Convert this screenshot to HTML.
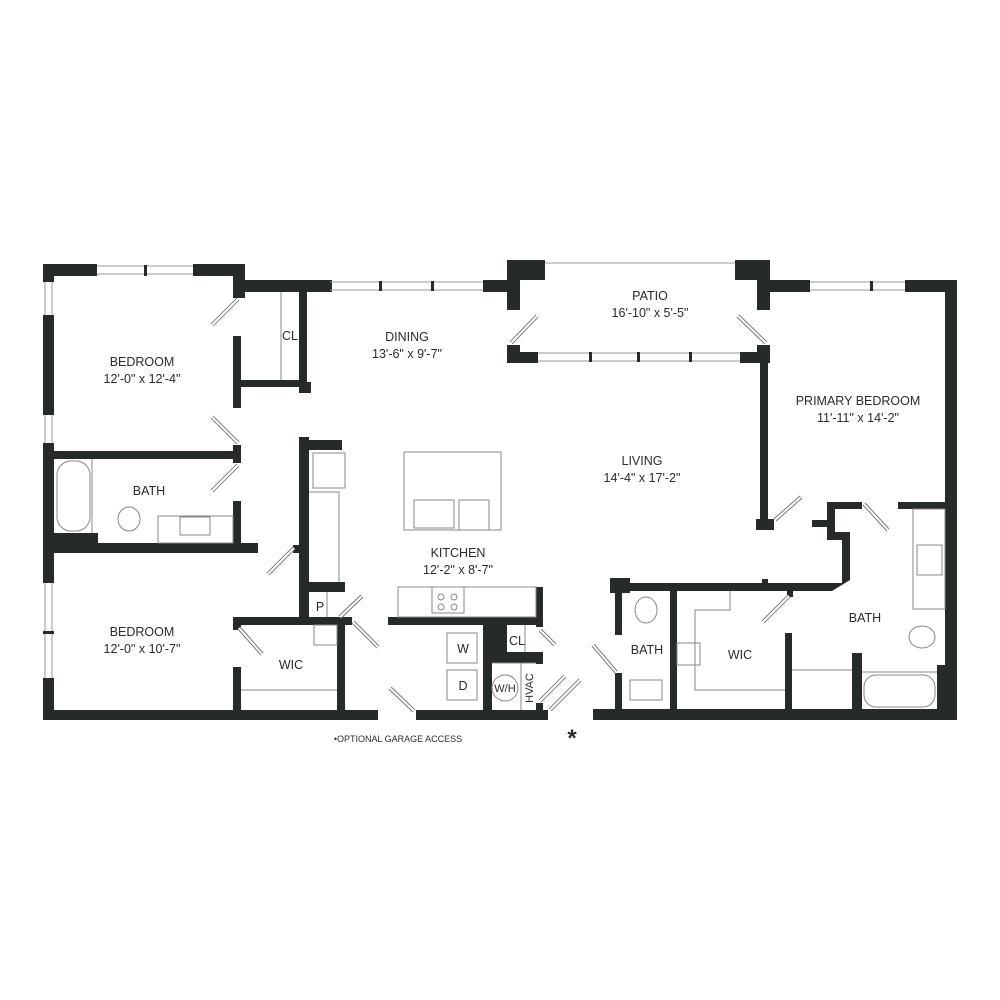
<!DOCTYPE html>
<html><head><meta charset="utf-8"><style>
html,body{margin:0;padding:0;background:#fff}
svg{display:block}
text{font-family:"Liberation Sans",sans-serif;font-size:12.5px;fill:#2a2c2c;text-anchor:middle}
</style></head><body>
<svg width="1000" height="1000" viewBox="0 0 1000 1000">
<g fill="#262a2a">
<!-- left outer -->
<rect x="43" y="264" width="54" height="12"/>
<rect x="193" y="264" width="52" height="12"/>
<rect x="43" y="264" width="11" height="18"/>
<rect x="43" y="315" width="11" height="100"/>
<rect x="43" y="443" width="11" height="140"/>
<rect x="43" y="678" width="11" height="42"/>
<rect x="233" y="264" width="12" height="34"/>
<rect x="245" y="280" width="87" height="12"/>
<!-- CL -->
<rect x="299" y="292" width="8" height="100"/>
<rect x="299" y="382" width="12" height="11"/>
<rect x="240" y="380" width="67" height="7"/>
<rect x="233" y="336" width="8" height="72"/>
<!-- bedroom/bath -->
<rect x="43" y="451" width="198" height="8"/>
<rect x="233" y="445" width="8" height="18"/>
<rect x="233" y="501" width="8" height="42"/>
<rect x="43" y="543" width="215" height="10"/>
<rect x="43" y="533" width="55" height="20"/>
<!-- kitchen left wall -->
<rect x="299" y="437" width="10" height="181"/>
<rect x="299" y="440" width="43" height="10"/>
<rect x="293" y="545" width="8" height="8"/>
<rect x="309" y="582" width="36" height="10"/>
<!-- WIC -->
<rect x="233" y="617" width="119" height="8"/>
<rect x="233" y="617" width="8" height="13"/>
<rect x="233" y="667" width="8" height="45"/>
<rect x="337" y="617" width="8" height="95"/>
<rect x="43" y="710" width="335" height="10"/>
<!-- kitchen counter wall / laundry -->
<rect x="388" y="617" width="155" height="8"/>
<rect x="536" y="587" width="7" height="40"/>
<rect x="483" y="625" width="24" height="37"/>
<rect x="483" y="625" width="9" height="88"/>
<rect x="492" y="652" width="51" height="11"/>
<rect x="536" y="652" width="7" height="12"/>
<rect x="416" y="710" width="132" height="10"/>
<rect x="536" y="703" width="7" height="9"/>
<!-- dining/patio -->
<rect x="483" y="280" width="32" height="12"/>
<rect x="507" y="260" width="38" height="20"/>
<rect x="507" y="260" width="13" height="50"/>
<rect x="735" y="260" width="35" height="20"/>
<rect x="757" y="260" width="13" height="50"/>
<rect x="507" y="345" width="13" height="18"/>
<rect x="507" y="352" width="31" height="11"/>
<rect x="740" y="352" width="30" height="11"/>
<rect x="757" y="345" width="13" height="18"/>
<rect x="760" y="363" width="8" height="160"/>
<rect x="756" y="519" width="18" height="11"/>
<!-- primary -->
<rect x="770" y="280" width="40" height="12"/>
<rect x="905" y="280" width="52" height="12"/>
<rect x="945" y="280" width="12" height="440"/>
<rect x="937" y="665" width="20" height="55"/>
<rect x="898" y="502" width="49" height="7"/>
<rect x="827" y="502" width="35" height="7"/>
<rect x="827" y="502" width="8" height="38"/>
<rect x="812" y="520" width="23" height="7"/>
<rect x="827" y="532" width="23" height="8"/>
<rect x="842" y="532" width="8" height="48"/>
<polygon points="842,575 850,575 850,580 832,591 820,591 832,583 842,583"/>
<rect x="610" y="583" width="222" height="8"/>
<rect x="610" y="578" width="20" height="15"/>
<rect x="615" y="578" width="7" height="57"/>
<rect x="615" y="673" width="7" height="40"/>
<rect x="762" y="579" width="6" height="5"/>
<rect x="787" y="591" width="6" height="6"/>
<rect x="670" y="590" width="7" height="120"/>
<rect x="785" y="633" width="7" height="77"/>
<rect x="852" y="653" width="10" height="57"/>
<rect x="593" y="709" width="364" height="11"/>
</g>
<!-- windows -->
<g stroke="#999" stroke-width="1" fill="none">
<line x1="97" y1="266" x2="193" y2="266"/><line x1="97" y1="274" x2="193" y2="274"/>
<line x1="330" y1="282" x2="483" y2="282"/><line x1="330" y1="290" x2="483" y2="290"/>
<line x1="538" y1="353" x2="740" y2="353"/><line x1="538" y1="361" x2="740" y2="361"/>
<line x1="810" y1="282" x2="905" y2="282"/><line x1="810" y1="290" x2="905" y2="290"/>
<line x1="545" y1="263" x2="735" y2="263"/>
<line x1="45" y1="282" x2="45" y2="315"/><line x1="52" y1="282" x2="52" y2="315"/>
<line x1="45" y1="415" x2="45" y2="443"/><line x1="52" y1="415" x2="52" y2="443"/>
<line x1="45" y1="583" x2="45" y2="678"/><line x1="52" y1="583" x2="52" y2="678"/>
</g>
<g fill="#262a2a">
<rect x="144" y="265" width="3" height="11"/>
<rect x="379" y="281" width="3" height="10"/><rect x="431" y="281" width="3" height="10"/>
<rect x="589" y="352" width="3" height="10"/><rect x="637" y="352" width="3" height="10"/><rect x="689" y="352" width="3" height="10"/>
<rect x="870" y="281" width="3" height="10"/>
<rect x="43" y="631" width="11" height="3"/>
</g>
<!-- doors -->
<g stroke-linecap="butt">
<g stroke="#777" stroke-width="4">
<line x1="238" y1="299" x2="212" y2="325"/>
<line x1="238" y1="443" x2="212" y2="417"/>
<line x1="238" y1="465" x2="212" y2="491"/>
<line x1="294" y1="548" x2="268" y2="574"/>
<line x1="239" y1="628" x2="262" y2="654"/>
<line x1="340" y1="617" x2="362" y2="596"/>
<line x1="353" y1="622" x2="378" y2="647"/>
<line x1="390" y1="688" x2="414" y2="711"/>
<line x1="540" y1="630" x2="555" y2="645"/>
<line x1="540" y1="701" x2="565" y2="676"/>
<line x1="550" y1="710" x2="580" y2="680"/>
<line x1="593" y1="645" x2="616" y2="672"/>
<line x1="511" y1="343" x2="537" y2="316"/>
<line x1="766" y1="343" x2="738" y2="316"/>
<line x1="775" y1="520" x2="801" y2="497"/>
<line x1="864" y1="504" x2="888" y2="530"/>
<line x1="789" y1="596" x2="763" y2="622"/>
</g>
<g stroke="#fff" stroke-width="2">
<line x1="238" y1="299" x2="212" y2="325"/>
<line x1="238" y1="443" x2="212" y2="417"/>
<line x1="238" y1="465" x2="212" y2="491"/>
<line x1="294" y1="548" x2="268" y2="574"/>
<line x1="239" y1="628" x2="262" y2="654"/>
<line x1="340" y1="617" x2="362" y2="596"/>
<line x1="353" y1="622" x2="378" y2="647"/>
<line x1="390" y1="688" x2="414" y2="711"/>
<line x1="540" y1="630" x2="555" y2="645"/>
<line x1="540" y1="701" x2="565" y2="676"/>
<line x1="550" y1="710" x2="580" y2="680"/>
<line x1="593" y1="645" x2="616" y2="672"/>
<line x1="511" y1="343" x2="537" y2="316"/>
<line x1="766" y1="343" x2="738" y2="316"/>
<line x1="775" y1="520" x2="801" y2="497"/>
<line x1="864" y1="504" x2="888" y2="530"/>
<line x1="789" y1="596" x2="763" y2="622"/>
</g>
</g>
<!-- fixtures -->
<g stroke="#888" stroke-width="1" fill="none">
<line x1="281" y1="292" x2="281" y2="380"/>
<rect x="57" y="461" width="33" height="70" rx="14"/>
<line x1="92" y1="459" x2="92" y2="533"/>
<ellipse cx="129" cy="519" rx="11" ry="12"/>
<rect x="158" y="516" width="75" height="27"/>
<rect x="180" y="517" width="30" height="18"/>
<rect x="313" y="453" width="32" height="35"/>
<line x1="309" y1="492" x2="339" y2="492"/><line x1="339" y1="492" x2="339" y2="582"/>
<line x1="327" y1="592" x2="327" y2="617"/>
<rect x="314" y="625" width="23" height="20"/>
<line x1="241" y1="690" x2="337" y2="690"/>
<rect x="404" y="452" width="97" height="78"/>
<rect x="414" y="500" width="40" height="28"/>
<rect x="459" y="500" width="30" height="30"/>
<rect x="398" y="587" width="138" height="30"/>
<rect x="432" y="587" width="32" height="26"/>
<circle cx="441" cy="597" r="3"/><circle cx="454" cy="597" r="3"/><circle cx="441" cy="607" r="3"/><circle cx="454" cy="607" r="3"/>
<rect x="447" y="633" width="30" height="30"/>
<rect x="447" y="670" width="30" height="30"/>
<line x1="492" y1="663" x2="536" y2="663"/>
<line x1="521" y1="663" x2="521" y2="710"/>
<circle cx="505" cy="688" r="13"/>
<line x1="525" y1="625" x2="525" y2="652"/>
<ellipse cx="646" cy="610" rx="11" ry="13"/>
<rect x="630" y="680" width="32" height="20"/>
<polyline points="730,591 730,610 695,610 695,690 785,690"/>
<rect x="677" y="643" width="23" height="22"/>
<rect x="913" y="509" width="32" height="100"/>
<rect x="917" y="545" width="25" height="30"/>
<ellipse cx="922" cy="637" rx="13" ry="11"/>
<rect x="864" y="675" width="71" height="32" rx="12"/>
<line x1="862" y1="672" x2="937" y2="672"/>
<line x1="792" y1="670" x2="852" y2="670"/>
</g>
<!-- labels -->
<text x="142" y="366">BEDROOM</text><text x="142" y="383">12'-0" x 12'-4"</text>
<text x="149" y="495">BATH</text>
<text x="142" y="636">BEDROOM</text><text x="142" y="653">12'-0" x 10'-7"</text>
<text x="291" y="669">WIC</text>
<text x="290" y="340">CL</text>
<text x="407" y="341">DINING</text><text x="407" y="358">13'-6" x 9'-7"</text>
<text x="650" y="300">PATIO</text><text x="650" y="317">16'-10" x 5'-5"</text>
<text x="642" y="465">LIVING</text><text x="642" y="482">14'-4" x 17'-2"</text>
<text x="858" y="405">PRIMARY BEDROOM</text><text x="858" y="422">11'-11" x 14'-2"</text>
<text x="458" y="557">KITCHEN</text><text x="458" y="574">12'-2" x 8'-7"</text>
<text x="320" y="611">P</text>
<text x="517" y="645">CL</text>
<text x="463" y="653">W</text>
<text x="463" y="690">D</text>
<text x="505" y="692" style="font-size:11px">W/H</text>
<text x="0" y="0" transform="translate(533,688) rotate(-90)" style="font-size:11px">HVAC</text>
<text x="647" y="654">BATH</text>
<text x="740" y="659">WIC</text>
<text x="865" y="622">BATH</text>
<text x="398" y="742" style="font-size:9px">•OPTIONAL GARAGE ACCESS</text>
<text x="572" y="746" style="font-size:24px;font-weight:bold">*</text>
</svg>
</body></html>
